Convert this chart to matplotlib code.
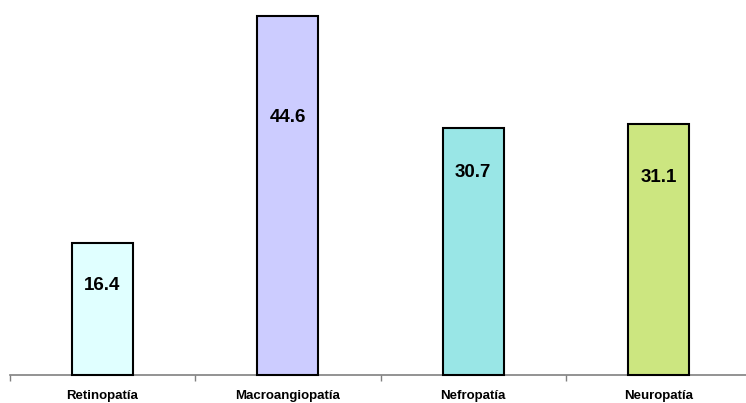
import matplotlib.pyplot as plt

# datos
categorias = ['Retinopatía', 'Macroangiopatía', 'Nefropatía', 'Neuropatía']
valores = [16.4, 44.6, 30.7, 31.1]
colores = ['#E0FFFF', '#CCCCFF', '#99E6E6', '#CCE680']

# desplazamiento de las etiquetas bajo el borde superior (puntos)
desplaz = [-31, -73, -32, -38]

plt.rcParams['font.family'] = ['Liberation Sans', 'DejaVu Sans']

fig = plt.figure(figsize=(7.46, 4.03), dpi=100)
ax = fig.add_axes([9.5 / 746, 28 / 403, 742 / 746, 359.3 / 403])

x = range(len(categorias))
barras = ax.bar(x, valores, width=0.33, color=colores, edgecolor='black',
                linewidth=1.5, clip_on=False, zorder=3)

for b, v, d in zip(barras, valores, desplaz):
    ax.annotate(f'{v:.1f}', (b.get_x() + b.get_width() / 2, v),
                xytext=(0, d), textcoords='offset points',
                ha='center', va='center', fontsize=13.5, fontweight='bold')

ax.set_xlim(-0.5, len(categorias) - 0.5)
ax.set_ylim(0, max(valores))

# eje x con marcas entre categorías
for s in ['top', 'right', 'left']:
    ax.spines[s].set_visible(False)
ax.spines['bottom'].set_color('#808080')
ax.spines['bottom'].set_linewidth(1.2)
ax.set_yticks([])

ax.set_xticks([i - 0.5 for i in range(len(categorias) + 1)])
ax.set_xticklabels([])
ax.tick_params(axis='x', which='major', length=4, color='#808080', width=1)
ax.set_xticks(list(x), minor=True)
ax.set_xticklabels(categorias, minor=True, fontsize=9.5, fontweight='bold')
ax.tick_params(axis='x', which='minor', length=0, pad=11)

plt.savefig('out.png', dpi=100)
